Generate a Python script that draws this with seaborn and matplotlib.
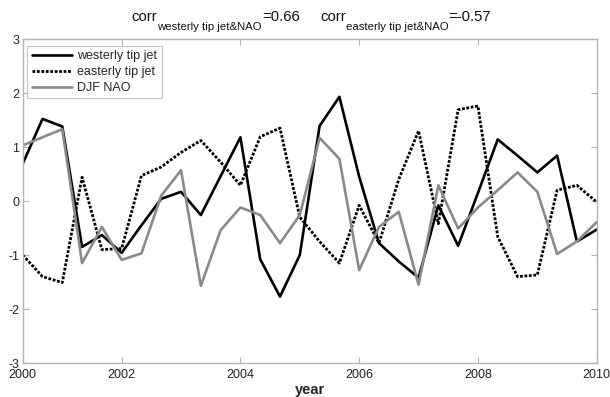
import numpy as np
import pandas as pd
import matplotlib
matplotlib.use("Agg")
import matplotlib.pyplot as plt
import seaborn as sns

# time axis: three winter months per year (Dec/Jan/Feb), 2000.33 .. 2010
years = [2000 + (k + 1) / 3 for k in range(30)]

westerly = [0.69, 1.52, 1.38, -0.85, -0.63, -0.96, -0.45, 0.04, 0.17, -0.26,
            0.46, 1.18, -1.08, -1.77, -1.00, 1.39, 1.93, 0.45, -0.78, -1.12,
            -1.42, -0.08, -0.83, 0.15, 1.14, 0.84, 0.53, 0.84, -0.75, -0.53]
easterly = [-1.00, -1.40, -1.51, 0.44, -0.90, -0.88, 0.47, 0.63, 0.90, 1.12,
            0.72, 0.29, 1.19, 1.35, -0.30, -0.75, -1.15, -0.08, -0.78, 0.40,
            1.30, -0.42, 1.69, 1.76, -0.66, -1.40, -1.37, 0.20, 0.29, -0.02]
nao = [1.03, 1.18, 1.33, -1.15, -0.48, -1.09, -0.97, 0.10, 0.57, -1.57,
       -0.54, -0.12, -0.26, -0.78, -0.26, 1.17, 0.78, -1.28, -0.48, -0.20,
       -1.55, 0.29, -0.51, -0.12, 0.20, 0.53, 0.17, -0.98, -0.75, -0.39]

series_names = ["westerly tip jet", "easterly tip jet", "DJF NAO"]
xtick_pos = [2000 + 1 / 3, 2002, 2004, 2006, 2008, 2010]
xtick_labels = ["2000", "2002", "2004", "2006", "2008", "2010"]
ytick_vals = [-3, -2, -1, 0, 1, 2, 3]
title_parts = [("corr", "westerly tip jet&NAO", "=0.66"),
               ("corr", "easterly tip jet&NAO", "=-0.57")]

sns.set_theme(style="white")
plt.rcParams["font.family"] = ["Liberation Sans", "DejaVu Sans"]

df = pd.DataFrame({
    "year": years * 3,
    "value": westerly + easterly + nao,
    "series": [series_names[0]] * 30 + [series_names[1]] * 30 + [series_names[2]] * 30,
})

W, H = 610, 397
fig = plt.figure(figsize=(W / 100, H / 100), dpi=100)
ax_l, ax_r, ax_t, ax_b = 22.7, 596.7, 39.0, 363.0
ax = fig.add_axes([ax_l / W, 1 - ax_b / H, (ax_r - ax_l) / W, (ax_b - ax_t) / H])

styles = {
    series_names[0]: dict(color="black", linestyle="-", linewidth=1.9),
    series_names[1]: dict(color="black", linestyle=(0, (1, 0.6)), linewidth=2.0),
    series_names[2]: dict(color="#8a8a8a", linestyle="-", linewidth=1.9),
}
for name in series_names:
    sub = df[df["series"] == name]
    sns.lineplot(data=sub, x="year", y="value", ax=ax, label=name, **styles[name])

ax.set_xlim(2000 + 1 / 3, 2010)
ax.set_ylim(-3, 3)
ax.set_xticks(xtick_pos)
ax.set_xticklabels(xtick_labels)
ax.set_yticks(ytick_vals)
ax.set_yticklabels([str(v) for v in ytick_vals])
ax.set_xlabel("year", fontsize=10.5, fontweight="bold", labelpad=1)
ax.set_ylabel("")

spine_col = "#b4b4b4"
for s in ax.spines.values():
    s.set_visible(True)
    s.set_color(spine_col)
    s.set_linewidth(1.0)
ax.tick_params(direction="in", length=4, width=0.8, color=spine_col,
               top=True, right=True, bottom=True, left=True,
               labelsize=9, labelcolor="#222222")
ax.tick_params(axis="x", pad=4.5)
ax.tick_params(axis="y", pad=2.5)

aw, ah = ax_r - ax_l, ax_b - ax_t
leg = ax.legend(loc="upper left", bbox_to_anchor=(4.5 / aw, 1 - 6.5 / ah),
                fontsize=9, frameon=True, fancybox=False,
                borderpad=0.35, handlelength=3.2, handletextpad=0.45,
                labelspacing=0.32, borderaxespad=0.0)
leg.get_frame().set_edgecolor(spine_col)
leg.get_frame().set_linewidth(0.8)

# title with subscripts, assembled piece by piece
renderer = fig.canvas.get_renderer()
inv = fig.transFigure.inverted()
starts = [131.7 / W, 320.0 / W]
base_y = 1 - 21.0 / H
sub_dy = -8.5 / H
for (main, sub, tail), x0 in zip(title_parts, starts):
    x = x0
    for txt, fs, dy in [(main, 10.7, 0.0), (sub, 8.2, sub_dy), (tail, 10.7, 0.0)]:
        t = fig.text(x, base_y + dy, txt, fontsize=fs, ha="left", va="baseline",
                     color="#111111")
        bb = t.get_window_extent(renderer=renderer)
        x = inv.transform((bb.x1, 0))[0]

fig.savefig("out.png", dpi=100)
